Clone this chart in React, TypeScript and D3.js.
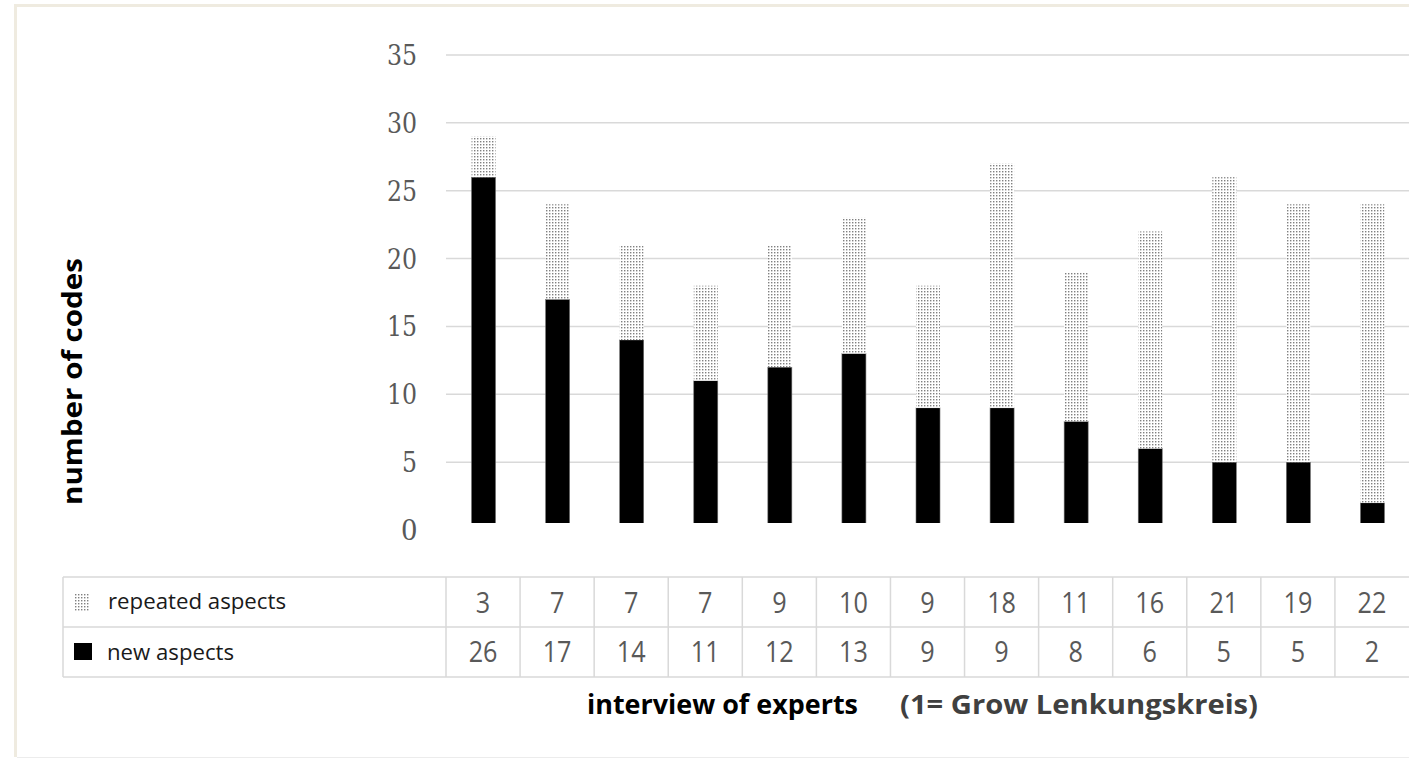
import React from "react";
import * as d3 from "d3";

const interviews = ["1","2","3","4","5","6","7","8","9","10","11","12","13"];
const repeatedAspects = [3, 7, 7, 7, 9, 10, 9, 18, 11, 16, 21, 19, 22];
const newAspects = [26, 17, 14, 11, 12, 13, 9, 9, 8, 6, 5, 5, 2];
const yTicks = [0, 5, 10, 15, 20, 25, 30, 35];
const seriesLabels = ["repeated aspects", "new aspects"];

const W = 1409;
const H = 758;
const plotLeft = 446;
const plotRight = 1409;
const tableLeft = 63;
const tableTop = 577;
const rowH = 50;

export default function App() {
  const x = d3.scaleBand<string>().domain(interviews).range([plotLeft, plotRight]).paddingInner(0).paddingOuter(0);
  const y = d3.scaleLinear().domain([0, 35]).range([530, 55]);
  const barW = 24;
  const stack = d3.stack<any>().keys(["newA", "rep"])(
    interviews.map((k, i) => ({ k, newA: newAspects[i], rep: repeatedAspects[i] }))
  );
  const sans = "'Open Sans', 'Liberation Sans', sans-serif";
  return (
    <svg width={W} height={H} style={{ position: "absolute", left: 0, top: 0, background: "#fff" }}>
      <defs>
        <pattern id="dots" width={3} height={3} patternUnits="userSpaceOnUse">
          <rect width={3} height={3} fill="#fff" />
          <rect x={0} y={0} width={1.4} height={1.4} fill="#808080" />
        </pattern>
        <clipPath id="plotClip">
          <rect x={plotLeft} y={0} width={plotRight - plotLeft} height={523} />
        </clipPath>
      </defs>
      <rect x={0} y={0} width={W} height={H} fill="#fff" />
      {/* frame */}
      <rect x={14} y={4} width={W - 14} height={3} fill="#efebe0" />
      <rect x={14} y={4} width={3} height={753} fill="#efebe0" />
      <line x1={17} x2={W} y1={757.5} y2={757.5} stroke="#ececec" />

      {/* gridlines */}
      {yTicks.filter((t) => t > 0).map((t) => (
        <line key={t} x1={plotLeft} x2={plotRight} y1={y(t)} y2={y(t)} stroke="#d9d9d9" strokeWidth={1.5} />
      ))}
      {yTicks.map((t) =>
        t === 0 ? (
          <text key={t} x={417} y={y(t) + 10} textAnchor="end" fontSize={31}
            fontFamily="'Liberation Serif', serif" fill="#595959">{t}</text>
        ) : (
          <text key={t} transform={`translate(417,${y(t) + 10}) scale(0.86,1)`} textAnchor="end" fontSize={27.5}
            fontFamily="'DejaVu Serif', serif" fill="#595959">{t}</text>
        )
      )}

      {/* bars */}
      <g clipPath="url(#plotClip)">
        {stack.map((s, si) =>
          s.map((d, i) => (
            <rect key={si + "-" + i}
              x={(x(interviews[i]) as number) + x.bandwidth() / 2 - barW / 2 + 0.5}
              y={y(d[1])}
              width={barW}
              height={y(d[0]) - y(d[1])}
              fill={si === 0 ? "#000" : "url(#dots)"}
              stroke={si === 0 ? "#6e6e6e" : "none"}
              strokeWidth={si === 0 ? 0.6 : 0} />
          ))
        )}
      </g>

      {/* table */}
      <g stroke="#d9d9d9" strokeWidth={1.5}>
        <line x1={tableLeft} x2={W} y1={tableTop} y2={tableTop} />
        <line x1={tableLeft} x2={W} y1={tableTop + rowH} y2={tableTop + rowH} />
        <line x1={tableLeft} x2={W} y1={tableTop + 2 * rowH} y2={tableTop + 2 * rowH} />
        <line x1={tableLeft} x2={tableLeft} y1={tableTop} y2={tableTop + 2 * rowH} />
        {interviews.map((k) => (
          <line key={k} x1={x(k) as number} x2={x(k) as number} y1={tableTop} y2={tableTop + 2 * rowH} />
        ))}
      </g>
      <rect x={74} y={593} width={16} height={19} fill="url(#dots)" />
      <rect x={74} y={643} width={18} height={17} fill="#000" />
      <text x={108} y={609} fontSize={22.5} textLength={178} lengthAdjust="spacingAndGlyphs" fontFamily={sans} fill="#1a1a1a">{seriesLabels[0]}</text>
      <text x={107} y={660} fontSize={22.5} textLength={127} lengthAdjust="spacingAndGlyphs" fontFamily={sans} fill="#1a1a1a">{seriesLabels[1]}</text>
      {interviews.map((k, i) => {
        const cx = (x(k) as number) + x.bandwidth() / 2;
        return (
          <g key={k}>
            <text transform={`translate(${cx},613) scale(0.84,1)`} textAnchor="middle"
              fontSize={30} fontFamily={sans} fill="#595959">{repeatedAspects[i]}</text>
            <text transform={`translate(${cx},662) scale(0.84,1)`} textAnchor="middle"
              fontSize={30} fontFamily={sans} fill="#595959">{newAspects[i]}</text>
          </g>
        );
      })}

      {/* axis titles */}
      <text x={587} y={714} fontSize={26} textLength={271} lengthAdjust="spacingAndGlyphs" fontWeight="bold" fontFamily={sans} fill="#000">interview of experts</text>
      <text x={900} y={714} fontSize={26} textLength={358} lengthAdjust="spacingAndGlyphs" fontWeight="bold" fontFamily={sans} fill="#404040">(1= Grow Lenkungskreis)</text>
      <text transform="translate(82,505) rotate(-90)" fontSize={26} textLength={247} lengthAdjust="spacingAndGlyphs" fontWeight="bold" fontFamily={sans} fill="#000">number of codes</text>
    </svg>
  );
}
